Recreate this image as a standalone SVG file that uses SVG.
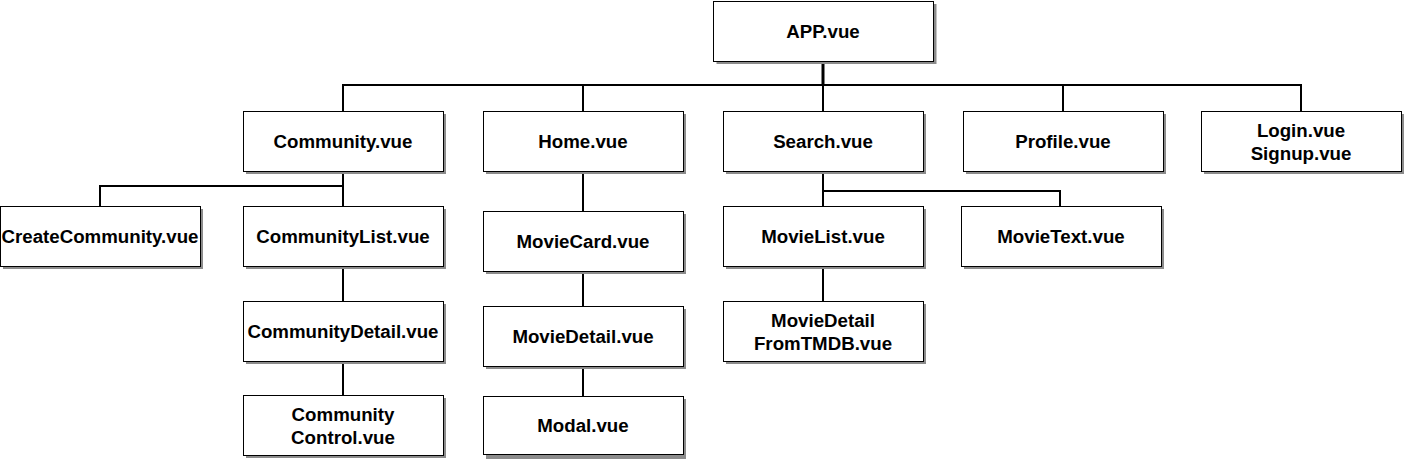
<svg xmlns="http://www.w3.org/2000/svg" width="1405" height="460" viewBox="0 0 1405 460">
<style>
.sh{fill:#8c8c8c;}
.bx{fill:#ffffff;stroke:#000000;stroke-width:1;}
.t{font-family:"Liberation Sans",Arial,sans-serif;font-weight:bold;font-size:18.7px;fill:#000;text-anchor:middle;}
.c{fill:none;stroke:#000;stroke-width:2;}
</style>
<rect width="1405" height="460" fill="#ffffff"/>
<g id="connectors">
<path class="c" d="M823 61V85" style="stroke-width:3"/>
<path class="c" d="M343 111V85H1301V111M583 85V111M823 85V111M1063 85V111"/>
<path class="c" d="M343 171V206M343 186H100V206M343 266V301M343 361V395"/>
<path class="c" d="M583 171V211M583 271V306M583 366V396"/>
<path class="c" d="M823 171V206M823 191H1060V206M823 266V301"/>
</g>
<g id="app"><rect class="sh" x="716.5" y="4" width="220" height="60"/><rect class="bx" x="713.5" y="1.5" width="220" height="60"/><text class="t" x="823" y="38">APP.vue</text></g>
<g id="community"><rect class="sh" x="246" y="114" width="200" height="60"/><rect class="bx" x="243.5" y="111.5" width="200" height="60"/><text class="t" x="343" y="148">Community.vue</text></g>
<g id="home"><rect class="sh" x="486" y="114" width="200" height="60"/><rect class="bx" x="483.5" y="111.5" width="200" height="60"/><text class="t" x="583" y="148">Home.vue</text></g>
<g id="search"><rect class="sh" x="726" y="114" width="200" height="60"/><rect class="bx" x="723.5" y="111.5" width="200" height="60"/><text class="t" x="823" y="148">Search.vue</text></g>
<g id="profile"><rect class="sh" x="966" y="114" width="200" height="60"/><rect class="bx" x="963.5" y="111.5" width="200" height="60"/><text class="t" x="1063" y="148">Profile.vue</text></g>
<g id="login"><rect class="sh" x="1204" y="114" width="200" height="60"/><rect class="bx" x="1201.5" y="111.5" width="200" height="60"/><text class="t" x="1301" y="137">Login.vue</text><text class="t" x="1301" y="160">Signup.vue</text></g>
<g id="createcommunity"><rect class="sh" x="3" y="209" width="200" height="60"/><rect class="bx" x="0.5" y="206.5" width="200" height="60"/><text class="t" x="100" y="243">CreateCommunity.vue</text></g>
<g id="communitylist"><rect class="sh" x="246" y="209" width="200" height="60"/><rect class="bx" x="243.5" y="206.5" width="200" height="60"/><text class="t" x="343" y="243">CommunityList.vue</text></g>
<g id="communitydetail"><rect class="sh" x="246" y="304" width="200" height="60"/><rect class="bx" x="243.5" y="301.5" width="200" height="60"/><text class="t" x="343" y="338">CommunityDetail.vue</text></g>
<g id="communitycontrol"><rect class="sh" x="246" y="398" width="200" height="60"/><rect class="bx" x="243.5" y="395.5" width="200" height="60"/><text class="t" x="343" y="421">Community</text><text class="t" x="343" y="444">Control.vue</text></g>
<g id="moviecard"><rect class="sh" x="486" y="214" width="200" height="60"/><rect class="bx" x="483.5" y="211.5" width="200" height="60"/><text class="t" x="583" y="248">MovieCard.vue</text></g>
<g id="moviedetail"><rect class="sh" x="486" y="309" width="200" height="60"/><rect class="bx" x="483.5" y="306.5" width="200" height="60"/><text class="t" x="583" y="343">MovieDetail.vue</text></g>
<g id="modal"><rect class="sh" x="486" y="399" width="200" height="60"/><rect class="bx" x="483.5" y="396.5" width="200" height="58"/><text class="t" x="583" y="432">Modal.vue</text></g>
<g id="movielist"><rect class="sh" x="726" y="209" width="200" height="60"/><rect class="bx" x="723.5" y="206.5" width="200" height="60"/><text class="t" x="823" y="243">MovieList.vue</text></g>
<g id="movietext"><rect class="sh" x="964" y="209" width="200" height="60"/><rect class="bx" x="961.5" y="206.5" width="200" height="60"/><text class="t" x="1061" y="243">MovieText.vue</text></g>
<g id="moviedetailtmdb"><rect class="sh" x="726" y="304" width="200" height="60"/><rect class="bx" x="723.5" y="301.5" width="200" height="60"/><text class="t" x="823" y="327">MovieDetail</text><text class="t" x="823" y="350">FromTMDB.vue</text></g>
</svg>
